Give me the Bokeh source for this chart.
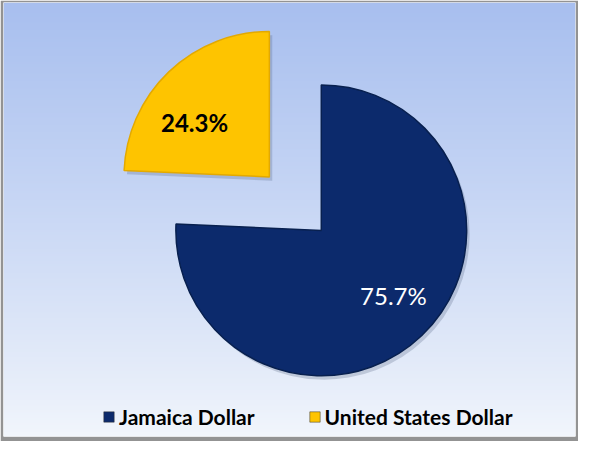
import numpy as np
from bokeh.plotting import figure
from bokeh.models import Range1d, ColumnDataSource, Legend, LegendItem
from bokeh.core.properties import value
from bokeh.embed import file_html
from bokeh.resources import INLINE

# ---- data ----
categories = ["Jamaica Dollar", "United States Dollar"]
shares = [75.7, 24.3]
labels = ["75.7%", "24.3%"]

# ---- style ----
colors = ["#0c2a6c", "#fec400"]
edge_colors = ["#08204f", "#e3a900"]
label_colors = ["white", "black"]
label_styles = ["normal", "bold"]
label_radius = [0.67, 0.64]
label_turn = [0.07, 0.17]
explode = [0.0, 78.0]
W, H = 594, 457
cx, cy, R = 330.0, 457 - 240.0, 151.0

p = figure(width=578, height=441, output_backend="svg", toolbar_location=None,
           x_range=Range1d(0, W), y_range=Range1d(0, H),
           min_border_left=3, min_border_right=3, min_border_top=2, min_border_bottom=5)
p.axis.visible = False
p.grid.visible = False
p.outline_line_color = None
p.border_fill_color = "#939393"

# background gradient (light blue to near white)
n = 256
t = np.linspace(0, 1, n)[:, None]  # 0 bottom -> 1 top
top = np.array([168, 191, 239])
bot = np.array([242, 246, 252])
rgb = bot + (top - bot) * t ** 0.9
img = np.zeros((n, 1), dtype=np.uint32)
view = img.view(dtype=np.uint8).reshape((n, 1, 4))
view[:, 0, 0] = rgb[:, 0]
view[:, 0, 1] = rgb[:, 1]
view[:, 0, 2] = rgb[:, 2]
view[:, 0, 3] = 255
p.image_rgba(image=[img], x=0, y=0, dw=W, dh=H)

# ---- pie geometry from the data ----
vals = np.array(shares, dtype=float)
frac = vals / vals.sum()
ang = 2 * np.pi * frac
start = np.pi / 2 - np.concatenate([[0], np.cumsum(ang)[:-1]])
end = start - ang
mid = (start + end) / 2
xs = cx + np.array(explode) * np.cos(mid)
ys = cy + np.array(explode) * np.sin(mid)

src = ColumnDataSource(dict(x=xs, y=ys, start=start, end=end, color=colors,
                            edge=edge_colors, cat=categories))
# soft shadow
shadow = ColumnDataSource(dict(x=xs + 3, y=ys - 4, start=start, end=end))
p.wedge(x="x", y="y", radius=R, start_angle="start", end_angle="end",
        direction="clock", source=shadow, fill_color="#4a5a7a", fill_alpha=0.25,
        line_color=None)
p.wedge(x="x", y="y", radius=R, start_angle="start", end_angle="end",
        direction="clock", source=src, fill_color="color",
        line_color="edge", line_width=1.5)

# labels
la = mid + np.array(label_turn)
lr = np.array(label_radius) * R
lsrc = ColumnDataSource(dict(x=xs + lr * np.cos(la), y=ys + lr * np.sin(la),
                             text=labels, color=label_colors, style=label_styles))
p.text(x="x", y="y", text="text", source=lsrc, text_color="color",
       text_font_style="style", text_font=value("Lato"), text_font_size="24px",
       text_align="center", text_baseline="middle")

# legend using square swatches (not drawn in plot area)
leg_src = ColumnDataSource(dict(l=[np.nan] * 2, r=[np.nan] * 2, b=[np.nan] * 2,
                                t=[np.nan] * 2, color=colors))
sq = p.quad(left="l", right="r", bottom="b", top="t", source=leg_src,
            fill_color="color", line_color="#333333", line_width=0.5)
legend = Legend(items=[LegendItem(label=categories[i], renderers=[sq], index=i)
                       for i in range(len(categories))],
                orientation="horizontal", location=(99, 7),
                label_text_font="Lato", label_text_font_style="bold",
                label_text_font_size="21px", label_text_color="black",
                glyph_width=13, glyph_height=13, label_standoff=4, spacing=53,
                background_fill_alpha=0, border_line_color=None,
                padding=0, margin=0)
p.add_layout(legend)

open("out.html", "w").write(file_html(p, INLINE))
